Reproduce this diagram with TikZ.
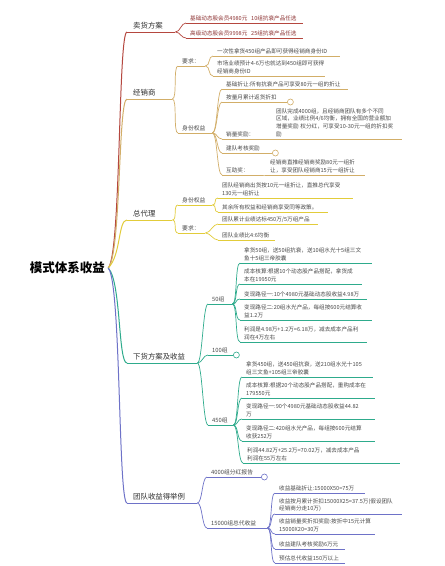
\documentclass[tikz,border=0pt]{standalone}
\usepackage{fontspec}
\setmainfont{Noto Sans CJK SC}
\definecolor{cred}{HTML}{B5473F}
\definecolor{ctan}{HTML}{D2AE68}
\definecolor{cyel}{HTML}{E2CC3A}
\definecolor{cteal}{HTML}{2EAB8C}
\definecolor{cblue}{HTML}{6E72C8}
\definecolor{ctxt}{HTML}{4A4A4A}
\definecolor{cmain}{HTML}{2E2E2E}
\definecolor{credtxt}{HTML}{8E3434}
\tikzset{
  ul/.style={append after command={(\tikzlastnode.south west) edge[draw=#1, line width=0.7pt] (\tikzlastnode.south east)}},
  mn/.style 2 args={anchor=south west, font=\fontsize{7.4}{9}\selectfont, text=cmain, inner xsep=6pt, inner ysep=2.4pt, align=left, text width=#2, ul=#1},
  sn/.style 2 args={anchor=south west, font=\fontsize{5.8}{7.8}\selectfont, text=ctxt, inner xsep=4pt, inner ysep=1.8pt, align=left, text width=#2, ul=#1},
  lf/.style 2 args={anchor=south west, font=\fontsize{5.6}{7.8}\selectfont, text=ctxt, inner xsep=4pt, inner ysep=1.8pt, align=left, text width=#2, ul=#1},
  circ/.style={circle, draw=#1, fill=white, line width=0.6pt, minimum size=6pt, inner sep=0pt},
  br/.style={draw=#1, line width=1pt},
  sb/.style={draw=#1, line width=0.7pt},
}
\newcommand\con[3]{\draw[sb=#1] (#2.south east) .. controls +(5,0) and +(-5,0) .. (#3.south west);}
\newcommand\rcon[3]{\draw[br=#1] (root.east) .. controls +(13,#3) and +(-9,0) .. (#2.south west);}
\begin{document}
\begin{tikzpicture}[x=1pt,y=-1pt]
\fill[white] (0,0) rectangle (445,566);
\useasboundingbox (0,0) rectangle (445,566);

\node[font=\fontsize{12.5}{14}\selectfont\bfseries, text=black, inner xsep=3pt] (root) at (67.5,268) {模式体系收益};

% ---- red branch
\node[mn={cred}{36pt}] (m1) at (127,32) {卖货方案};
\node[lf={cred}{109pt}, text=credtxt] (s1) at (186,23) {\mbox{基础动态股会员4980元\ \ 10组抗衰产品任选}};
\node[lf={cred}{109pt}, text=credtxt] (s2) at (186,38) {\mbox{高级动态股会员9998元\ \ 25组抗衰产品任选}};

% ---- tan branch
\node[mn={ctan}{33pt}] (m2) at (127,99) {经销商};
\node[sn={ctan}{19pt}] (r1) at (178,66) {要求：};
\node[lf={ctan}{119pt}] (r1a) at (213,56) {一次性拿货450组产品即可获得经销商身份ID};
\node[lf={ctan}{104pt}] (r1b) at (213,76) {\mbox{市场业绩预计4-6万也就达到450组即可获得}\\经销商身份ID};
\node[sn={ctan}{26pt}] (r2) at (178,133) {身份权益};
\node[lf={ctan}{118pt}] (r2a) at (222,89) {基础折让:所有抗衰产品可享受80元一组的折让};
\node[lf={ctan}{57pt}] (r2b) at (222,102) {按量月累计返货折扣};
\node[circ=ctan] (r2bc) at ([xshift=3pt]r2b.south east) {};
\node[lf={ctan}{32pt}] (r2c) at (222,139) {销量奖励：};
\node[lf={ctan}{122pt}] (r2c1) at (272,139) {团队完成4000组，且经销商团队有多个不同\\区域，业绩比例4/6均衡，拥有全国的营业额加\\\mbox{增量奖励 权分红，可享受10-30元一组的折扣奖}\\励};
\node[lf={ctan}{42pt}] (r2d) at (222,153) {建队考核奖励};
\node[circ=ctan] (r2dc) at ([xshift=3pt]r2d.south east) {};
\node[lf={ctan}{32pt}] (r2e) at (222,175) {互助奖：};
\node[lf={ctan}{91pt}] (r2e1) at (266,175) {经销商直推经销商奖励80元一组折\\让，享受团队经销商15元一组折让};

% ---- yellow branch
\node[mn={cyel}{33pt}] (m3) at (127,220) {总代理};
\node[sn={cyel}{26pt}] (z1) at (178,205) {身份权益};
\node[lf={cyel}{127pt}] (z1a) at (218,198) {团队经销商出货按10元一组折让，直推总代享受\\130元一组折让};
\node[lf={cyel}{102pt}] (z1b) at (218,212) {其余所有权益和经销商享受同等政策。};
\node[sn={cyel}{19pt}] (z2) at (178,233) {要求：};
\node[lf={cyel}{92pt}] (z2a) at (218,224) {团队累计业绩达标450万/5万组产品};
\node[lf={cyel}{49pt}] (z2b) at (218,240) {团队业绩比4:6均衡};

% ---- teal branch
\node[mn={cteal}{58pt}] (m4) at (127,363) {下货方案及收益};
\node[sn={cteal}{16pt}] (t1) at (208,304) {50组};
\node[lf={cteal}{124pt}] (t1a) at (240,263) {拿货50组，送50组抗衰，送10组水光十5组三文\\鱼十5组三帝胶囊};
\node[lf={cteal}{114pt}] (t1b) at (240,284) {成本核算:根据10个动态股产品搭配，拿货成\\本在19950元};
\node[lf={cteal}{119pt}] (t1c) at (240,299) {变现路径一:10个4980元基础动态股收益4.98万};
\node[lf={cteal}{124pt}] (t1d) at (240,320) {变现路径二:20组水光产品，每组按600元结算收\\益1.2万};
\node[lf={cteal}{119pt}] (t1e) at (240,342) {利润是4.98万+1.2万=6.18万，减去成本产品利\\润在4万左右};
\node[sn={cteal}{17pt}] (t2) at (208,355) {100组};
\node[circ=cteal] (t2c) at ([xshift=3pt]t2.south east) {};
\node[sn={cteal}{17pt}] (t3) at (208,425) {450组};
\node[lf={cteal}{123pt}] (t3a) at (242,377) {拿货450组，送450组抗衰，送210组水光十105\\组三文鱼+105组三帝胶囊};
\node[lf={cteal}{125pt}] (t3b) at (242,398) {成本核算:根据20个动态股产品搭配，重购成本在\\179550元};
\node[lf={cteal}{125pt}] (t3c) at (242,419) {变现路径一:90个4980元基础动态股收益44.82\\万};
\node[lf={cteal}{125pt}] (t3d) at (242,441) {变现路径二:420组水光产品，每组按600元结算\\收获252万};
\node[lf={cteal}{149pt}] (t3e) at (243,463) {利润44.82万+25.2万=70.02万，减去成本产品\\利润在55万左右};

% ---- blue branch
\node[mn={cblue}{58pt}] (m5) at (127,503) {团队收益得举例};
\node[sn={cblue}{46pt}] (u1) at (207,477) {4000组分红报告};
\node[circ=cblue] (u1c) at ([xshift=3pt]u1.south east) {};
\node[sn={cblue}{52pt}] (u2) at (207,528) {15000组总代收益};
\node[lf={cblue}{82pt}] (u2a) at (275,493) {收益基础折让:15000X50=75万};
\node[lf={cblue}{119pt}] (u2b) at (275,514) {收益按月累计折扣15000X25=37.5万(假设团队\\经销商分走10万)};
\node[lf={cblue}{92pt}] (u2c) at (275,534) {收益销量奖折扣奖励:按折中15元计算\\15000X20=30万};
\node[lf={cblue}{62pt}] (u2d) at (275,549) {收益建队考核奖励6万元};
\node[lf={cblue}{62pt}] (u2e) at (275,563) {预估总代收益150万以上};

% ---- connectors from root
\rcon{cred}{m1}{-13}
\rcon{ctan}{m2}{-13}
\rcon{cyel}{m3}{-13}
\rcon{cteal}{m4}{13}
\rcon{cblue}{m5}{13}

% ---- sub connectors
\con{cred}{m1}{s1} \con{cred}{m1}{s2}
\con{ctan}{m2}{r1} \con{ctan}{m2}{r2}
\con{ctan}{r1}{r1a} \con{ctan}{r1}{r1b}
\con{ctan}{r2}{r2a} \con{ctan}{r2}{r2b} \con{ctan}{r2}{r2c} \con{ctan}{r2}{r2d} \con{ctan}{r2}{r2e}
\con{ctan}{r2c}{r2c1} \con{ctan}{r2e}{r2e1}
\con{cyel}{m3}{z1} \con{cyel}{m3}{z2}
\con{cyel}{z1}{z1a} \con{cyel}{z1}{z1b}
\con{cyel}{z2}{z2a} \con{cyel}{z2}{z2b}
\con{cteal}{m4}{t1} \con{cteal}{m4}{t2} \con{cteal}{m4}{t3}
\con{cteal}{t1}{t1a} \con{cteal}{t1}{t1b} \con{cteal}{t1}{t1c} \con{cteal}{t1}{t1d} \con{cteal}{t1}{t1e}
\con{cteal}{t3}{t3a} \con{cteal}{t3}{t3b} \con{cteal}{t3}{t3c} \con{cteal}{t3}{t3d} \con{cteal}{t3}{t3e}
\con{cblue}{m5}{u1} \con{cblue}{m5}{u2}
\con{cblue}{u2}{u2a} \con{cblue}{u2}{u2b} \con{cblue}{u2}{u2c} \con{cblue}{u2}{u2d} \con{cblue}{u2}{u2e}
\end{tikzpicture}
\end{document}
